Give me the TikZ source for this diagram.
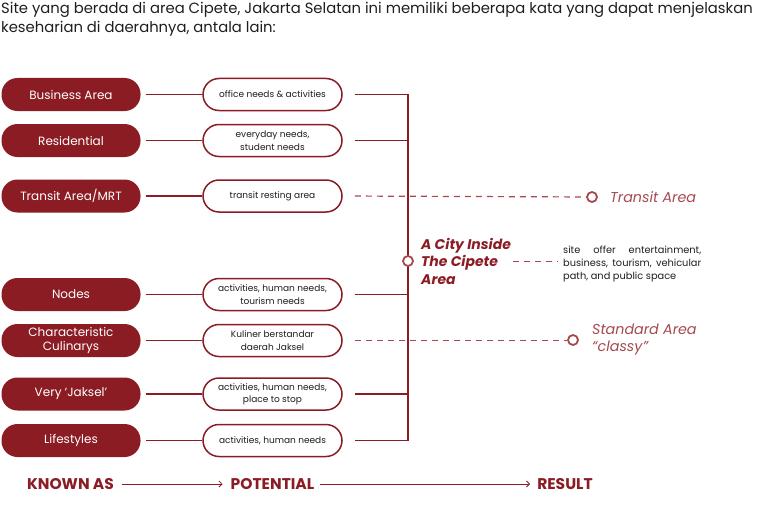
\documentclass[tikz,border=0pt]{standalone}
\usepackage{fontspec}
\setmainfont{Poppins}
\usetikzlibrary{arrows.meta,positioning}
\definecolor{maroon}{HTML}{8B1C24}
\definecolor{rosy}{HTML}{A5494F}
\definecolor{ink}{HTML}{1E1E1E}

\begin{document}
\begin{tikzpicture}[x=1pt, y=-1pt,
  known/.style={fill=maroon, text=white, rounded corners=16pt, minimum width=139pt,
    minimum height=33pt, inner sep=2pt, align=center, font=\fontsize{12}{14}\selectfont},
  potential/.style={draw=maroon, line width=1.5pt, fill=white, rounded corners=16pt,
    minimum width=139pt, minimum height=32pt, inner sep=2pt, align=center, text=ink,
    font=\fontsize{9}{12.5}\selectfont},
  link/.style={draw=maroon, line width=1.2pt},
  dashlink/.style={draw=rosy, line width=1.2pt, dash pattern=on 6pt off 5pt},
  endpoint/.style={circle, draw=rosy, line width=1.8pt, fill=white, minimum size=10pt, inner sep=0pt},
  result/.style={text=rosy, anchor=west, inner sep=0pt, align=left,
    font=\fontsize{14.3}{17}\selectfont\itshape},
  stage/.style={text=maroon, inner sep=0pt, font=\fontsize{15.5}{17}\selectfont\bfseries},
  flow/.style={draw=maroon, line width=0.8pt, -{Straight Barb[length=3pt,width=6pt]}}]
  \useasboundingbox (0,0) rectangle (759,508);

  \node[anchor=base west, inner sep=0pt, align=left, text=ink, font=\fontsize{14.8}{19}\selectfont]
    (intro) at (1,33) {Site yang berada di area Cipete, Jakarta Selatan ini memiliki beberapa kata yang dapat menjelaskan\\
    keseharian di daerahnya, antala lain:};

  % known as
  \node[known] (k1) at (71,94.5) {Business Area};
  \node[known] (k2) at (71,140.5) {Residential};
  \node[known] (k3) at (71,196) {Transit Area/MRT};
  \node[known] (k4) at (71,294.5) {Nodes};
  \node[known] (k5) at (71,340.5) {Characteristic\\Culinarys};
  \node[known] (k6) at (71,394) {Very `Jaksel'};
  \node[known] (k7) at (71,440.5) {Lifestyles};

  % potential
  \node[potential] (p1) at (272.5,94.5) {office needs \& activities};
  \node[potential] (p2) at (272.5,140.5) {everyday needs,\\student needs};
  \node[potential] (p3) at (272.5,196) {transit resting area};
  \node[potential] (p4) at (272.5,294.5) {activities, human needs,\\tourism needs};
  \node[potential] (p5) at (272.5,340.5) {Kuliner berstandar\\daerah Jaksel};
  \node[potential] (p6) at (272.5,394) {activities, human needs,\\place to stop};
  \node[potential] (p7) at (272.5,440.5) {activities, human needs};

  \foreach \i in {1,...,7}
    \draw[link, shorten <=5pt] (k\i) -- (p\i);

  % spine
  \coordinate (spine) at (408,0);
  \draw[link] (p1.east -| spine) -- (p7.east -| spine);
  \foreach \i in {1,2,4,6,7}
    \draw[link, shorten <=12pt] (p\i.east) -- (p\i.east -| spine);

  % result
  \node[endpoint] (hub) at (408,261) {};
  \node[anchor=west, inner sep=0pt, align=left, text=maroon,
        font=\fontsize{14}{17.5}\selectfont\bfseries\itshape]
        (city) at (421,261) {A City Inside\\The Cipete\\Area};
  \node[anchor=west, inner sep=0pt, text width=138pt, align=justify, text=ink,
        font=\fontsize{9.8}{13}\selectfont]
        (offer) at (563,264) {site offer entertainment,\linebreak business, tourism, vehicular\linebreak path, and public space};
  \draw[dashlink, line width=1pt, shorten <=2pt, shorten >=5pt] (city.east) -- (city.east -| offer.west);

  \node[endpoint] (transit) at (592,197) {};
  \node[result] (transitlbl) at (610,197) {Transit Area};
  \draw[dashlink, shorten <=12pt] (p3.east) -- (transit);

  \node[endpoint] (standard) at (573,340) {};
  \node[result] (standardlbl) at (592,340) {Standard Area\\``classy''};
  \draw[dashlink, shorten <=12pt] (p5.east) -- (p5.east -| standard.west);

  % stages
  \node[stage] (knownas) at (70.5,484) {KNOWN AS};
  \node[stage] (potent) at (272.5,484) {POTENTIAL};
  \node[stage] (res) at (565,484) {RESULT};
  \draw[flow, shorten <=8pt, shorten >=8pt] (knownas) -- (potent);
  \draw[flow, shorten <=5pt, shorten >=7pt] (potent) -- (res);
\end{tikzpicture}
\end{document}
